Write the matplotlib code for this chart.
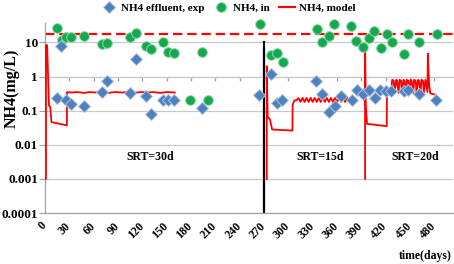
import numpy as np
import matplotlib
matplotlib.use("Agg")
import matplotlib.pyplot as plt
from matplotlib.lines import Line2D

plt.rcParams["font.family"] = ["Liberation Serif", "DejaVu Serif"]
plt.rcParams["font.weight"] = "bold"

# NH4 influent (green circles)
in_day = [14.4, 20.6, 25.5, 32, 48, 70, 77, 104.5, 112, 124.5, 130.7, 146, 152, 159,
          179, 193.6, 201, 265, 278.7, 286.4, 294, 335, 341, 350.6, 356.7, 377.5, 384,
          392, 399.5, 406, 414, 421.3, 427.5, 442.7, 448, 461, 483]
in_val = [25.8, 11.7, 14, 14.6, 15.6, 8.7, 9.3, 14.5, 19.2, 7.9, 6.6, 10.4, 5.2, 4.75,
          0.21, 5.3, 0.21, 33.8, 4.2, 4.95, 2.6, 24.6, 10.4, 15.3, 34.5, 29.5, 10.9,
          7.4, 13.1, 22, 6.9, 17.5, 10, 4.6, 17.5, 10.4, 17.5]

# NH4 effluent, experimental (blue diamonds)
eff_day = [14.4, 19.7, 25.5, 32, 48.5, 70, 77, 105, 112, 125, 130.7, 146, 151.5, 159,
           193, 264, 279, 286, 292.6, 334.6, 341.6, 350.6, 357, 365, 378.5, 384.6,
           391.7, 399, 406.5, 413.5, 421, 427, 443, 447.6, 460.7, 482]
eff_val = [0.24, 7.8, 0.21, 0.153, 0.134, 0.35, 0.73, 0.32, 3.16, 0.27, 0.078, 0.2, 0.2,
           0.2, 0.12, 0.28, 1.17, 0.17, 0.2, 0.73, 0.3, 0.091, 0.134, 0.26, 0.2, 0.41,
           0.3, 0.39, 0.24, 0.4, 0.38, 0.38, 0.38, 0.39, 0.3, 0.2]

# model, SRT=30d
m1_day = [1.2, 1.2, 2.6, 4.9, 6.5, 8.0, 27.0, 27.2, 32, 40, 48, 55, 62, 70, 78, 86, 94,
          102, 110, 118, 126, 134, 142, 150, 160]
m1_val = [0.001, 8.3, 8.3, 0.14, 0.125, 0.046, 0.037, 0.35, 0.34, 0.35, 0.33, 0.35, 0.34,
          0.35, 0.33, 0.35, 0.34, 0.35, 0.33, 0.35, 0.34, 0.35, 0.33, 0.35, 0.34]

# model, SRT=15d
m2_day = [273.4, 273.4, 274.5, 277.4, 280, 305, 305.3, 307.5, 310, 312.5, 315, 317.5,
          320, 322.5, 325, 327.5, 330, 332.5, 335, 337.5, 340, 342.5, 345, 347.5, 350,
          352.5, 355, 357.5, 360, 362.5, 365, 367.5, 370, 372.5, 375, 378.5]
m2_val = [0.001, 2.0, 0.065, 0.055, 0.028, 0.026, 0.15, 0.2, 0.2, 0.235, 0.18, 0.235,
          0.18, 0.235, 0.18, 0.235, 0.18, 0.235, 0.18, 0.235, 0.18, 0.235, 0.18, 0.235,
          0.18, 0.235, 0.18, 0.235, 0.18, 0.235, 0.18, 0.235, 0.18, 0.235, 0.18, 0.22]

# model, SRT=20d
m3_day = [394.6, 394.6, 395.5, 397, 421.3, 421.5, 422.5, 427, 428, 430, 431, 433, 434,
          436, 437, 439, 440, 442, 443, 445, 446, 448, 449, 451, 452, 454, 455, 457, 458,
          460, 461, 463, 464, 466, 467, 469, 471.5, 472, 473.5, 475, 480]
m3_val = [0.001, 9.0, 0.143, 0.041, 0.035, 0.225, 0.4, 0.38, 0.8, 0.75, 0.33, 0.8, 0.75,
          0.33, 0.8, 0.75, 0.33, 0.8, 0.75, 0.33, 0.8, 0.75, 0.33, 0.8, 0.75, 0.33, 0.8,
          0.75, 0.33, 0.8, 0.75, 0.33, 0.8, 0.75, 0.33, 0.8, 0.35, 4.7, 0.6, 0.32, 0.3]

srt_change_day = 270
in_target = 18
x_ticks = list(range(0, 481, 30))
y_ticks = [1e-4, 1e-3, 1e-2, 0.1, 1, 10]
y_labels = ["0.0001", "0.001", "0.01", "0.1", "1", "10"]
srt_text = [("SRT=30d", 130, 0.0045), ("SRT=15d", 339, 0.0045), ("SRT=20d", 456, 0.0045)]

blue = "#4f81bd"
green = "#16a84e"
red = "#ff0000"
grid_c = "#c8c8c8"
axis_c = "#a0a0a0"

fig = plt.figure(figsize=(4.54, 2.64), dpi=100)
ax = fig.add_axes([45 / 454, 51 / 264, 408 / 454, 190 / 264])
ax.set_yscale("log")
ax.set_xlim(0, 503)
ax.set_ylim(1e-4, 37)

ax.yaxis.grid(True, color=grid_c, lw=0.9, zorder=0)
ax.set_axisbelow(True)
for s in ["top", "right"]:
    ax.spines[s].set_visible(False)
for s in ["left", "bottom"]:
    ax.spines[s].set_color(axis_c)
    ax.spines[s].set_linewidth(0.9)

ax.axhline(in_target, color=red, lw=1.6, dashes=(4.2, 2.2), zorder=2)
ax.plot([srt_change_day, srt_change_day], [1e-4, 10], color="black", lw=1.6, zorder=3)
for d, v in [(m1_day, m1_val), (m2_day, m2_val), (m3_day, m3_val)]:
    ax.plot(d, v, color=red, lw=1.3, zorder=3)

ax.plot(in_day, in_val, ls="none", marker="o", ms=7, mfc=green, mec="#8fd9ac",
        mew=0.7, zorder=4, clip_on=False)
ax.plot(eff_day, eff_val, ls="none", marker="D", ms=6, mfc=blue, mec="#a9c3e3",
        mew=0.7, zorder=5, clip_on=False)

for txt, xd, yd in srt_text:
    ax.text(xd, yd, txt, ha="center", va="center", fontsize=8.5, fontweight="bold")

ax.set_yticks(y_ticks)
ax.set_yticklabels(y_labels)
ax.yaxis.set_minor_locator(matplotlib.ticker.NullLocator())
ax.tick_params(axis="y", length=4, color=axis_c, labelsize=9.5, pad=1)

ax.set_xticks(x_ticks)
ax.set_xticklabels([str(t) for t in x_ticks], rotation=45, ha="right",
                   rotation_mode="anchor", va="center")
ax.tick_params(axis="x", length=0, labelsize=8.5, pad=8)

# Excel puts the horizontal axis (tick marks) at y = 1
lo, hi = ax.get_ylim()
loc = (np.log10(1) - np.log10(lo)) / (np.log10(hi) - np.log10(lo))
secax = ax.secondary_xaxis(loc)
secax.set_xticks(x_ticks)
secax.set_xticklabels([])
secax.tick_params(direction="in", length=3, color=axis_c, width=0.9)
for s in secax.spines.values():
    s.set_color(grid_c)

fig.text(12 / 454, 1 - 88 / 264, "NH4(mg/L)", rotation=90, ha="center", va="center",
         fontsize=11.5, fontweight="bold")
fig.text(452 / 454, 1 - 256 / 264, "time(days)", ha="right", va="center",
         fontsize=8.5, fontweight="bold")

handles = [
    Line2D([], [], ls="none", marker="D", ms=6, mfc=blue, mec="#a9c3e3", mew=0.7),
    Line2D([], [], ls="none", marker="o", ms=7, mfc=green, mec="#8fd9ac", mew=0.7),
    Line2D([], [], color=red, lw=1.6),
]
fig.legend(handles, ["NH4 effluent, exp", "NH4, in", "NH4, model"], loc="center",
           bbox_to_anchor=(228 / 454, 1 - 8 / 264), ncol=3, frameon=False,
           prop={"size": 8, "weight": "bold"}, handlelength=1.5, handletextpad=0.3,
           columnspacing=0.8, borderaxespad=0)

fig.savefig("out.png", dpi=100)
